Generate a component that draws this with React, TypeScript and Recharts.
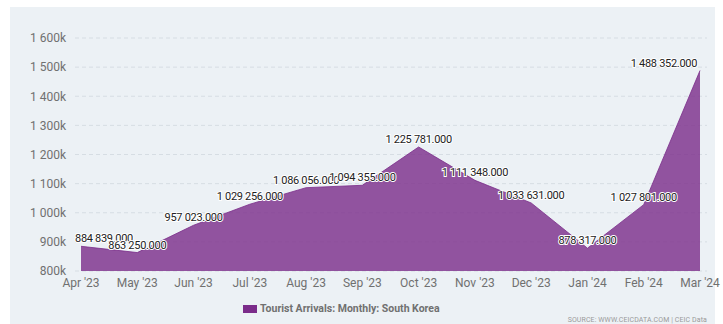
import { AreaChart, Area, XAxis, YAxis, CartesianGrid, LabelList } from 'recharts';

const months = ["Apr '23", "May '23", "Jun '23", "Jul '23", "Aug '23", "Sep '23", "Oct '23", "Nov '23", "Dec '23", "Jan '24", "Feb '24", "Mar '24"];
const arrivals = [884839, 863250, 957023, 1029256, 1086056, 1094355, 1225781, 1111348, 1033631, 878317, 1027801, 1488352];
const yTicks = [800000, 900000, 1000000, 1100000, 1200000, 1300000, 1400000, 1500000, 1600000];

const data = months.map((m, i) => ({ month: m, value: arrivals[i] }));

const group = (n: number) => String(n).replace(/\B(?=(\d{3})+(?!\d))/g, ' ');

const FONT = 'Roboto, "Noto Sans", sans-serif';
const PURPLE = '#7b2c8a';
const W = 723;
const H = 324;
const margin = { top: 38, right: 16, bottom: 33, left: 15 };
const Y_WIDTH = 60;
const PLOT_LEFT = margin.left + Y_WIDTH;
const PLOT_RIGHT = W - margin.right;

// rough text width for the value labels (11px Roboto, slight negative tracking)
const textWidth = (s: string) =>
  s.split('').reduce((w, c) => w + (c === ' ' ? 2.73 : c === '.' ? 2.89 : 6.18) - 0.3, 0);

const ValueLabel = (props: any) => {
  const { x, y, value } = props;
  if (x == null || y == null) return null;
  const text = `${group(value)}.000`;
  const tw = textWidth(text);
  let left = x - tw / 2;
  if (left < PLOT_LEFT) left = PLOT_LEFT;
  if (left + tw > PLOT_RIGHT - 10) left = PLOT_RIGHT - 10 - tw;
  return (
    <text
      x={left}
      y={y - 4}
      textAnchor="start"
      fill="#222"
      fontSize={11}
      fontFamily={FONT}
      letterSpacing={-0.3}
      stroke="#fff"
      strokeWidth={2}
      paintOrder="stroke"
    >
      {text}
    </text>
  );
};

export default function App() {
  return (
    <div style={{ position: 'fixed', left: 0, top: 0, width: W, height: H, background: '#fff', fontFamily: FONT }}>
      <div style={{ position: 'absolute', left: 10, top: 7, width: 705, height: 317, background: '#ecf1f5' }} />
      <div style={{ position: 'absolute', left: 0, top: 0 }}>
        <AreaChart width={W} height={H} data={data} margin={margin}>
          <CartesianGrid vertical={false} stroke="#d6dde3" strokeDasharray="4 3" />
          <XAxis
            dataKey="month"
            axisLine={false}
            tickLine={false}
            tickSize={0}
            tickMargin={7}
            height={20}
            interval={0}
            padding={{ left: 6, right: 7 }}
            tick={{ fill: '#707070', fontSize: 12, fontFamily: FONT }}
          />
          <YAxis
            domain={[800000, 1600000]}
            ticks={yTicks}
            axisLine={false}
            tickLine={false}
            tickSize={0}
            tickMargin={9}
            width={Y_WIDTH}
            tickFormatter={(v: number) => `${group(v / 1000)}k`}
            tick={{ fill: '#707070', fontSize: 12, fontFamily: FONT }}
          />
          <Area
            type="linear"
            dataKey="value"
            stroke={PURPLE}
            strokeOpacity={0.8}
            strokeWidth={1}
            fill={PURPLE}
            fillOpacity={0.8}
            isAnimationActive={false}
            dot={false}
            activeDot={false}
          >
            <LabelList dataKey="value" content={ValueLabel} />
          </Area>
        </AreaChart>
      </div>
      <div style={{ position: 'absolute', left: 243, top: 302, display: 'flex', alignItems: 'center', fontSize: 10.5, fontWeight: 700, color: '#707070' }}>
        <span style={{ display: 'inline-block', width: 14, height: 8, background: PURPLE, marginRight: 3 }} />
        <span>Tourist Arrivals: Monthly: South Korea</span>
      </div>
      <div style={{ position: 'absolute', right: 16, top: 316, fontSize: 7, color: '#9a9a9a', letterSpacing: 0.1 }}>
        SOURCE: WWW.CEICDATA.COM | CEIC Data
      </div>
    </div>
  );
}
